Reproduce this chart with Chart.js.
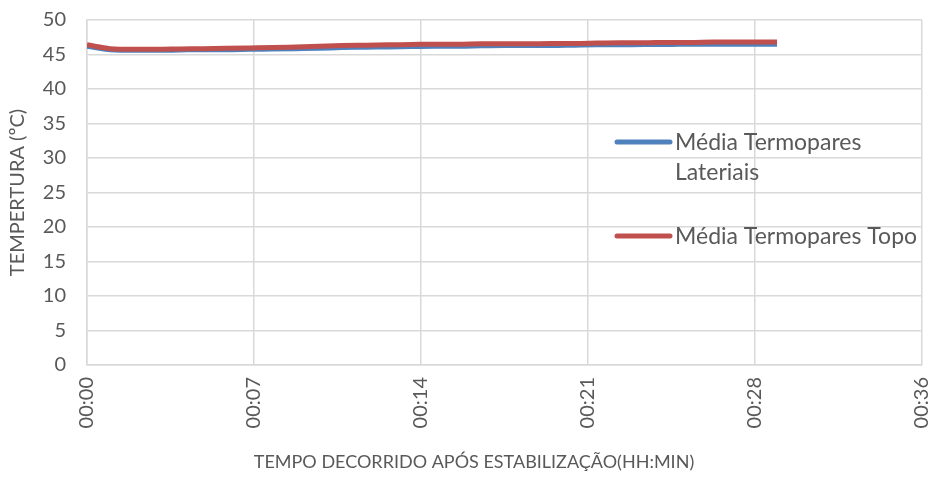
<!DOCTYPE html>
<html lang="pt">
<head>
    <meta charset="UTF-8">
    <title>Temperatura após estabilização</title>
    <script src="https://cdn.jsdelivr.net/npm/chart.js"></script>
    <style>
        body { margin: 0; background: #fff; }
        #wrap { width: 934px; height: 495px; }
    </style>
</head>
<body>
    <div id="wrap"><canvas id="grafico"></canvas></div>

    <script>
        // Tempo decorrido (minutos) e médias dos termopares (ºC)
        const tempos = [0, 1, 2, 3, 4, 5, 6, 7, 8, 9, 10, 11, 12, 13, 14, 15, 16, 17, 18, 19, 20, 21, 22, 23, 24, 25, 26, 27, 28, 29, 29.75];
        const mediaLaterais = [46.2, 45.7, 45.6, 45.6, 45.65, 45.7, 45.7, 45.75, 45.8, 45.85, 45.9, 46.0, 46.05, 46.1, 46.15, 46.2, 46.2, 46.25, 46.3, 46.3, 46.3, 46.35, 46.4, 46.4, 46.45, 46.45, 46.5, 46.5, 46.5, 46.5, 46.5];
        const mediaTopo = [46.4, 45.85, 45.75, 45.75, 45.8, 45.85, 45.9, 45.95, 46.0, 46.1, 46.2, 46.3, 46.35, 46.4, 46.45, 46.5, 46.5, 46.55, 46.55, 46.55, 46.6, 46.6, 46.65, 46.7, 46.7, 46.75, 46.75, 46.8, 46.8, 46.8, 46.8];

        // Eixo X: divisões de 0,005 dia (7,2 min) como no Excel
        const xTickValores = [0, 7.2, 14.4, 21.6, 28.8, 36];
        const xTickLabels = ['00:00', '00:07', '00:14', '00:21', '00:28', '00:36'];

        const fonte = 'Lato, "Open Sans", sans-serif';
        const cinzaTexto = '#595959';
        const cinzaGrade = '#d9d9d9';

        // Legenda sobreposta à área do gráfico + título do eixo X (centrado como no Excel)
        const legendaExcel = {
            id: 'legendaExcel',
            afterDraw(chart) {
                const ctx = chart.ctx;
                const itens = [
                    { ds: 0, y: 142, linhas: ['Média Termopares', 'Lateriais'] },
                    { ds: 1, y: 236, linhas: ['Média Termopares Topo'] }
                ];
                ctx.save();
                ctx.font = '23px ' + fonte;
                ctx.textBaseline = 'middle';
                ctx.fillStyle = cinzaTexto;
                itens.forEach(item => {
                    const ds = chart.data.datasets[item.ds];
                    ctx.strokeStyle = ds.borderColor;
                    ctx.lineWidth = ds.borderWidth;
                    ctx.lineCap = 'round';
                    ctx.beginPath();
                    ctx.moveTo(617, item.y);
                    ctx.lineTo(670, item.y);
                    ctx.stroke();
                    item.linhas.forEach((t, i) => ctx.fillText(t, 675, item.y + 1 + i * 30));
                });

                ctx.font = '18px ' + fonte;
                ctx.textAlign = 'center';
                ctx.fillText('TEMPO DECORRIDO APÓS ESTABILIZAÇÃO(HH:MIN)', 474, 462);
                ctx.restore();
            }
        };

        const ctx = document.getElementById('grafico').getContext('2d');
        new Chart(ctx, {
            type: 'line',
            data: {
                datasets: [
                    {
                        label: 'Média Termopares Lateriais',
                        data: tempos.map((t, i) => ({ x: t, y: mediaLaterais[i] })),
                        borderColor: '#4f81bd',
                        borderWidth: 5,
                        pointRadius: 0,
                        cubicInterpolationMode: 'monotone',
                        order: 2
                    },
                    {
                        label: 'Média Termopares Topo',
                        data: tempos.map((t, i) => ({ x: t, y: mediaTopo[i] })),
                        borderColor: '#c0504d',
                        borderWidth: 5,
                        pointRadius: 0,
                        cubicInterpolationMode: 'monotone',
                        order: 1
                    }
                ]
            },
            options: {
                responsive: true,
                maintainAspectRatio: false,
                animation: false,
                layout: { padding: { top: 20, right: 12, bottom: 0, left: 0 } },
                plugins: {
                    legend: { display: false },
                    tooltip: { enabled: false }
                },
                scales: {
                    x: {
                        type: 'linear',
                        min: 0,
                        max: 36,
                        afterBuildTicks: scale => {
                            scale.ticks = xTickValores.map(v => ({ value: v }));
                        },
                        afterFit: scale => {
                            scale.height = 130;
                            scale.paddingLeft = 0;
                            scale.paddingRight = 0;
                        },
                        ticks: {
                            callback: (v, i) => xTickLabels[i],
                            minRotation: 90,
                            maxRotation: 90,
                            padding: 12,
                            color: cinzaTexto,
                            font: { family: fonte, size: 20 }
                        },
                        grid: { color: cinzaGrade, lineWidth: 1.5, drawTicks: false },
                        border: { color: cinzaGrade, width: 1.5 }
                    },
                    y: {
                        min: 0,
                        max: 50,
                        afterFit: scale => {
                            scale.width = 87;
                            scale.paddingTop = 0;
                            scale.paddingBottom = 0;
                        },
                        ticks: {
                            stepSize: 5,
                            padding: 21,
                            color: cinzaTexto,
                            font: { family: fonte, size: 20 }
                        },
                        grid: { color: cinzaGrade, lineWidth: 1.5, drawTicks: false },
                        border: { color: cinzaGrade, width: 1.5 },
                        title: {
                            display: true,
                            text: 'TEMPERTURA (ºC)',
                            color: cinzaTexto,
                            font: { family: fonte, size: 20 },
                            padding: { top: 6, bottom: 4 }
                        }
                    }
                }
            },
            plugins: [legendaExcel]
        });
    </script>
</body>
</html>
